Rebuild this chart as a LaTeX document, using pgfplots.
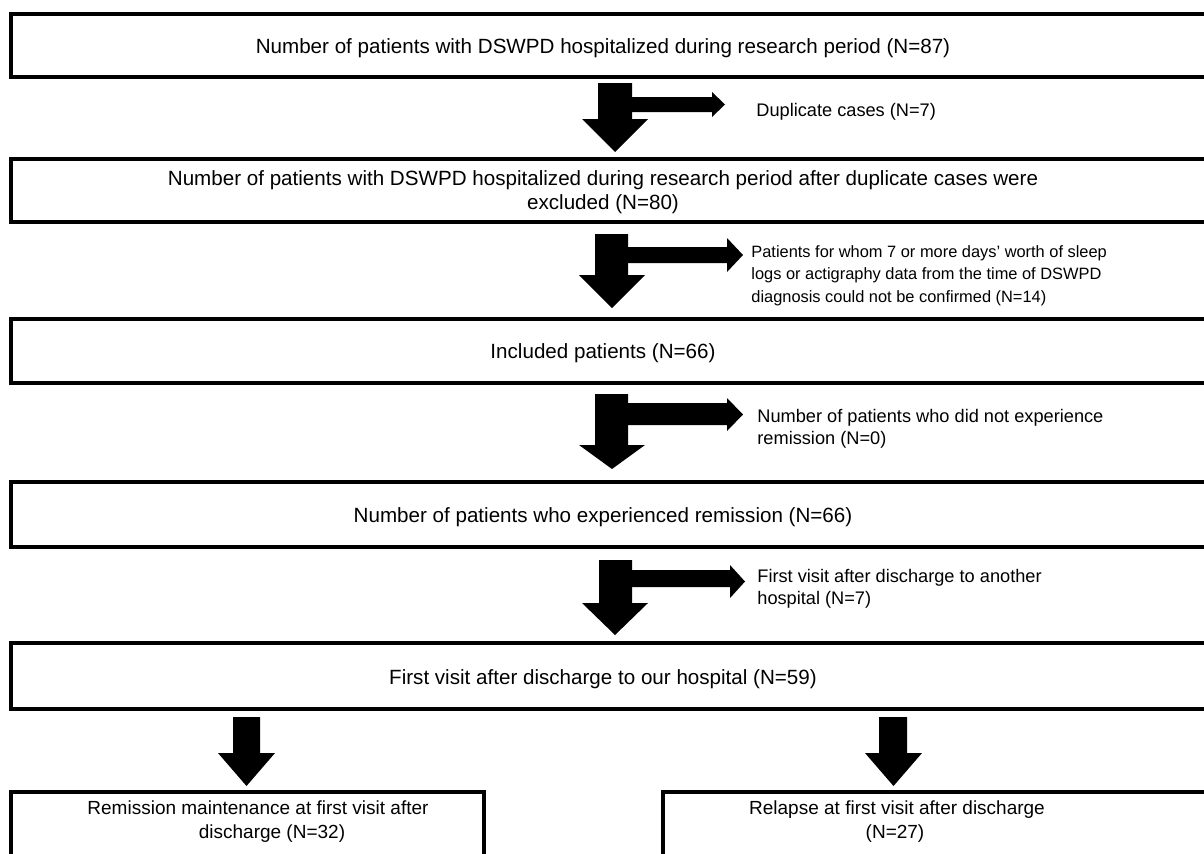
\documentclass[border=0pt]{standalone}
\usepackage{pgfplots}
\pgfplotsset{compat=1.18}
\usepackage{fontspec}
\setmainfont{Liberation Sans}
\newcommand{\bfnt}{\fontsize{10.3}{12.3}\selectfont}
\newcommand{\sfnt}{\fontsize{9.5}{11.5}\selectfont}
\newcommand{\nfnt}{\fontsize{9.1}{11.2}\selectfont}
\newcommand{\mfnt}{\fontsize{8.2}{10}\selectfont}
\begin{document}
\begin{tikzpicture}
\begin{axis}[
  scale only axis, width=602pt, height=426.5pt,
  xmin=0, xmax=1204, ymin=0, ymax=853, y dir=reverse,
  hide axis, clip=true, enlargelimits=false,
]
% ---- boxes (pixel coordinates, y downwards)
\addplot[draw=black, line width=2pt, line join=miter] coordinates {(11,14) (1240,14) (1240,77) (11,77)} -- cycle;
\addplot[draw=black, line width=2pt, line join=miter] coordinates {(11,159) (1240,159) (1240,222) (11,222)} -- cycle;
\addplot[draw=black, line width=2pt, line join=miter] coordinates {(11,319) (1240,319) (1240,383) (11,383)} -- cycle;
\addplot[draw=black, line width=2pt, line join=miter] coordinates {(11,482) (1240,482) (1240,547) (11,547)} -- cycle;
\addplot[draw=black, line width=2pt, line join=miter] coordinates {(11,643) (1240,643) (1240,709) (11,709)} -- cycle;
\addplot[draw=black, line width=2pt, line join=miter] coordinates {(11,792) (484,792) (484,900) (11,900)} -- cycle;
\addplot[draw=black, line width=2pt, line join=miter] coordinates {(663,792) (1240,792) (1240,900) (663,900)} -- cycle;
% ---- arrows: gap 1
\addplot[fill=black, draw=none] coordinates {(598,83) (632,83) (632,119) (648,119) (615,152) (582,119) (598,119)} -- cycle;
\addplot[fill=black, draw=none] coordinates {(631,97) (712,97) (712,92) (725,104.5) (712,117) (712,112) (631,112)} -- cycle;
% gap 2
\addplot[fill=black, draw=none] coordinates {(595,234) (628,234) (628,275) (645,275) (612,308) (579,275) (595,275)} -- cycle;
\addplot[fill=black, draw=none] coordinates {(627,247) (727,247) (727,238) (743,255) (727,272) (727,263) (627,263)} -- cycle;
% gap 3
\addplot[fill=black, draw=none] coordinates {(595,394) (628,394) (628,445) (645,445) (612,469) (579,445) (595,445)} -- cycle;
\addplot[fill=black, draw=none] coordinates {(627,403) (727,403) (727,398) (743,414.5) (727,431) (727,425) (627,425)} -- cycle;
% gap 4
\addplot[fill=black, draw=none] coordinates {(599,560) (632,560) (632,603) (648,603) (615,635) (582,603) (599,603)} -- cycle;
\addplot[fill=black, draw=none] coordinates {(631,570) (730,570) (730,565) (745,581.5) (730,598) (730,587) (631,587)} -- cycle;
% bottom arrows
\addplot[fill=black, draw=none] coordinates {(233,717) (260,717) (260,753) (275,753) (246.5,786) (218,753) (233,753)} -- cycle;
\addplot[fill=black, draw=none] coordinates {(879,717) (907,717) (907,753) (922,753) (893.5,786) (865,753) (879,753)} -- cycle;
% ---- box texts
\node[anchor=base, font=\bfnt] at (axis cs:603,53.5) {Number of patients with DSWPD hospitalized during research period (N=87)};
\node[anchor=base, font=\bfnt] at (axis cs:603,185) {Number of patients with DSWPD hospitalized during research period after duplicate cases were};
\node[anchor=base, font=\bfnt] at (axis cs:603,209.5) {excluded (N=80)};
\node[anchor=base, font=\bfnt] at (axis cs:603,358) {Included patients (N=66)};
\node[anchor=base, font=\bfnt] at (axis cs:603,522.5) {Number of patients who experienced remission (N=66)};
\node[anchor=base, font=\bfnt] at (axis cs:603,684) {First visit after discharge to our hospital (N=59)};
\node[anchor=base, font=\sfnt] at (axis cs:258,814) {Remission maintenance at first visit after};
\node[anchor=base, font=\sfnt] at (axis cs:272,838.5) {discharge (N=32)};
\node[anchor=base, font=\sfnt] at (axis cs:897,814) {Relapse at first visit after discharge};
\node[anchor=base, font=\sfnt] at (axis cs:895,838.5) {(N=27)};
% ---- side notes
\node[anchor=base west, font=\nfnt, inner sep=0pt] at (axis cs:756,116.5) {Duplicate cases (N=7)};
\node[anchor=base west, font=\mfnt, inner sep=0pt] at (axis cs:751,257) {Patients for whom 7 or more days’ worth of sleep};
\node[anchor=base west, font=\mfnt, inner sep=0pt] at (axis cs:751,279.5) {logs or actigraphy data from the time of DSWPD};
\node[anchor=base west, font=\mfnt, inner sep=0pt] at (axis cs:751,302) {diagnosis could not be confirmed (N=14)};
\node[anchor=base west, font=\nfnt, inner sep=0pt] at (axis cs:757,422) {Number of patients who did not experience};
\node[anchor=base west, font=\nfnt, inner sep=0pt] at (axis cs:757,444.5) {remission (N=0)};
\node[anchor=base west, font=\nfnt, inner sep=0pt] at (axis cs:757,582) {First visit after discharge to another};
\node[anchor=base west, font=\nfnt, inner sep=0pt] at (axis cs:757,604.5) {hospital (N=7)};
\end{axis}
\pgfresetboundingbox
\useasboundingbox (0,0) rectangle (602pt,426.5pt);
\end{tikzpicture}
\end{document}
